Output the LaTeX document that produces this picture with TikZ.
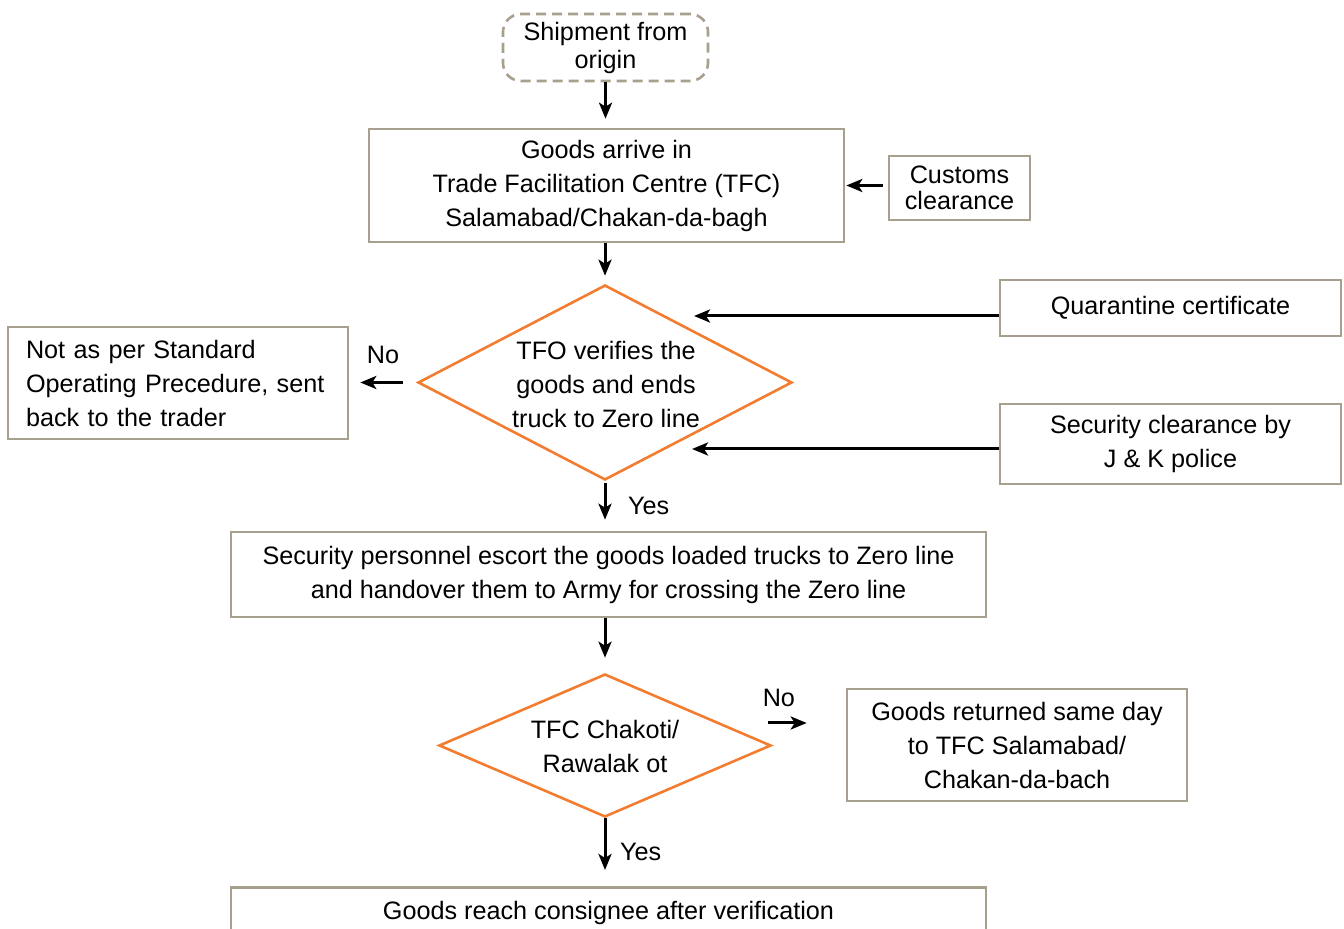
\documentclass[tikz,border=0pt]{standalone}
\usepackage{fontspec}
\setmainfont{Liberation Sans}
\usetikzlibrary{arrows.meta, shapes, positioning}
\definecolor{boxline}{RGB}{168,160,142}
\definecolor{choiceline}{RGB}{242,125,48}

\begin{document}
\begin{tikzpicture}[x=0.5pt, y=-0.5pt, >={Stealth[length=8pt, width=6.5pt, inset=2pt]}, thick,
 every node/.style={font=\fontsize{12.6}{17}\selectfont},
 box/.style={draw=boxline, line width=1.3pt, inner sep=0pt, align=center},
 dbox/.style={box, dash pattern=on 5pt off 3pt, rounded corners=9pt, font=\fontsize{12.6}{14}\selectfont},
 choice/.style={diamond, draw=choiceline, line width=1.3pt, inner sep=0pt},
 arr/.style={->, line width=1.5pt, shorten >=4pt},
 lbl/.style={inner sep=0pt}]

  \useasboundingbox (0,0) rectangle (1344,929);

  \node[dbox, minimum width=102.5pt, minimum height=33.5pt] (ship) at (605.5,47.5) {Shipment from\\origin};
  \node[box, minimum width=237.5pt, minimum height=56.5pt] (goods) at (606.5,185.5) {Goods arrive in\\Trade Facilitation Centre (TFC)\\Salamabad/Chakan-da-bagh};
  \node[box, minimum width=70.5pt, minimum height=32pt, font=\fontsize{12.6}{13}\selectfont] (cust) at (959.5,188) {Customs\\clearance};
  \node[choice, minimum width=187pt, minimum height=97.5pt] (verify) at (605,382.5) {};
  \node[lbl, align=center] (verifytxt) at (606,384) {TFO verifies the\\goods and ends\\truck to Zero line};
  \node[box, minimum width=170.5pt, minimum height=28pt] (quar) at (1170.5,308) {Quarantine certificate};
  \node[box, minimum width=170.5pt, minimum height=40pt] (secc) at (1170.5,444) {Security clearance by\\J \& K police};
  \node[box, minimum width=170pt, minimum height=56pt, align=left, text width=152pt, inner xsep=9pt] (sop) at (178,383) {Not as per Standard\\Operating Precedure, sent\\back to the trader};
  \node[box, minimum width=377.5pt, minimum height=42.5pt] (escort) at (608.5,574.5) {Security personnel escort the goods loaded trucks to Zero line\\and handover them to Army for crossing the Zero line};
  \node[choice, minimum width=166pt, minimum height=71.5pt] (tfc) at (605,745.5) {};
  \node[lbl, align=center] (tfctxt) at (605,746.5) {TFC Chakoti/\\Rawalak ot};
  \node[box, minimum width=170pt, minimum height=56pt] (ret) at (1017,745) {Goods returned same day\\to TFC Salamabad/\\Chakan-da-bach};
  \node[box, minimum width=377.5pt, minimum height=26pt, anchor=north] (reach) at (608.5,886) {Goods reach consignee after verification};

  \coordinate (quarend) at (694,316);
  \coordinate (seccend) at (692,449);
  \coordinate (nostart) at (768,723);

  \draw[arr, shorten >=4.5pt] (ship.south) -- (ship.south |- goods.north);
  \draw[arr, shorten <=2.5pt, shorten >=0.5pt] (cust.west |- goods.east) -- (goods.east);
  \draw[arr] (goods.south -| verify.north) -- (verify.north);
  \draw[arr, shorten >=0pt] (quar.west |- quarend) -- (quarend);
  \draw[arr, shorten >=0pt] (secc.west |- seccend) -- (seccend);
  \draw[arr, shorten <=7pt, shorten >=5.5pt] (verify.west) -- node[lbl, above=8.75pt] (no1) {No} (verify.west -| sop.east);
  \draw[arr, shorten <=1pt, shorten >=5.5pt] (verify.south) -- node[lbl, right=10.75pt] (yes1) {Yes} (verify.south |- escort.north);
  \draw[arr, shorten >=7.5pt] (escort.south -| tfc.north) -- (tfc.north);
  \draw[arr, shorten >=19.5pt] (nostart) -- node[lbl, above=7.5pt, pos=0.14] (no2) {No} (nostart -| ret.west);
  \draw[arr, shorten >=8pt] (tfc.south) -- node[lbl, right=6.75pt] (yes2) {Yes} (tfc.south |- reach.north);
\end{tikzpicture}
\end{document}
